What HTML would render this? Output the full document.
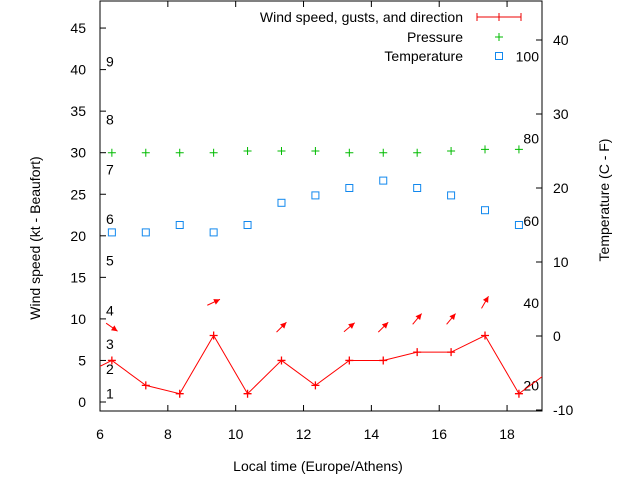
<!DOCTYPE html>
<html><head><meta charset="utf-8"><style>
body{margin:0;background:#fff}
svg{display:block;font-family:"Liberation Sans",sans-serif;font-size:14px}
</style></head><body>
<svg id="chart" width="640" height="480" xmlns="http://www.w3.org/2000/svg">
<rect width="640" height="480" fill="#fff"/>
<g id="grid"></g>
<g id="marks"></g>
<text x="318" y="471" text-anchor="middle">Local time (Europe/Athens)</text>
<text transform="translate(40,238) rotate(-90)" text-anchor="middle">Wind speed (kt - Beaufort)</text>
<text transform="translate(609,200) rotate(-90)" text-anchor="middle">Temperature (C - F)</text>
<g>
<text x="463" y="22" text-anchor="end">Wind speed, gusts, and direction</text>
<line x1="477" y1="17" x2="521" y2="17" stroke="#e00" stroke-width="1"/>
<line x1="477" y1="13" x2="477" y2="21" stroke="#e00"/><line x1="521" y1="13" x2="521" y2="21" stroke="#e00"/><line x1="499" y1="13" x2="499" y2="21" stroke="#e00"/>
<text x="463" y="42" text-anchor="end">Pressure</text>
<path d="M495 37h8M499 33v8" stroke="#0b0" fill="none"/>
<text x="463" y="61" text-anchor="end">Temperature</text>
<rect x="495.5" y="52.5" width="7" height="7" fill="none" stroke="#18e"/>
</g>
</svg>
<script>
const hours=[6.35,7.35,8.35,9.35,10.35,11.35,12.35,13.35,14.35,15.35,16.35,17.35,18.35];
const wind=[5,2,1,8,1,5,2,5,5,6,6,8,1];
const gusts=[9,null,null,12,null,9,null,9,9,10,10,12,null];
const dirAngle=[-35,0,0,25,0,45,0,40,45,50,50,60,0];
const pressure=[30,30,30,30,30.2,30.2,30.2,30,30,30,30.2,30.4,30.4];
const tempC=[14,14,15,14,15,18,19,20,21,20,19,17,15];
const xTicks=[6,8,10,12,14,16,18];
const yTicks=[0,5,10,15,20,25,30,35,40,45];
const y2Ticks=[-10,0,10,20,30,40];
const beaufort=[1,2,3,4,5,6,7,8,9];
const beaufortKt=[1,4,7,11,17,22,28,34,41];
const fahr=[20,40,60,80,100];
const L=100,R=542,T=1,B=411;
const X=h=>L+(h-6)*(R-L)/13.03;
const Y=v=>402-v*8.31;
const Y2=c=>336-c*7.4;
const NS="http://www.w3.org/2000/svg";
const g=document.getElementById('grid'),m=document.getElementById('marks');
function el(p,t,a){const e=document.createElementNS(NS,t);for(const k in a)e.setAttribute(k,a[k]);p.appendChild(e);return e;}
const frame=el(g,'rect',{x:L,y:T,width:R-L,height:B-T,fill:'none',stroke:'#000'});


xTicks.forEach(t=>{const x=X(t);
 el(g,'path',{d:`M${x} ${B}v-6M${x} ${T}v6`,stroke:'#000'});
 const tx=el(g,'text',{x:x,y:439,'text-anchor':'middle'});tx.textContent=t;
 
 });
yTicks.forEach(t=>{const y=Y(t);
 el(g,'path',{d:`M${L} ${y}h6`,stroke:'#000'});
 const tx=el(g,'text',{x:86,y:y+5,'text-anchor':'end'});tx.textContent=t;
 
 });
y2Ticks.forEach(t=>{const y=Y2(t);
 el(g,'path',{d:`M${R} ${y}h-6`,stroke:'#000'});
 const tx=el(g,'text',{x:553,y:y+5,'text-anchor':'start'});tx.textContent=t;
 
 });
beaufort.forEach((b,i)=>{const tx=el(g,'text',{x:106,y:Y(beaufortKt[i])+5});tx.textContent=b;
 
 });
fahr.forEach(f=>{const c=(f-32)*5/9;const tx=el(g,'text',{x:539,y:Y2(c)+5,'text-anchor':'end'});tx.textContent=f;
 
 });
// wind line
const pts=hours.map((h,i)=>X(h)+','+Y(wind[i]));
const cp=el(m,'clipPath',{id:'clip'});el(cp,'rect',{x:L,y:T,width:R-L,height:B-T});
const ln=el(m,'polyline',{points:[X(5.35)+','+Y(3),...pts,X(19.35)+','+Y(4)].join(' '),fill:'none',stroke:'#f00','clip-path':'url(#clip)'});


hours.forEach((h,i)=>{const x=X(h),y=Y(wind[i]);
 const p=el(m,'path',{d:`M${x-4} ${y}h8M${x} ${y-4}v8`,stroke:'#f00','stroke-width':1.3});
 
 
 const q=el(m,'path',{d:`M${x-4} ${Y(pressure[i])}h8M${x} ${Y(pressure[i])-4}v8`,stroke:'#0b0'});
 
 
 const s=el(m,'rect',{x:x-3.5,y:Y2(tempC[i])-3.5,width:7,height:7,fill:'none',stroke:'#18e'});
 
 
 if(gusts[i]!=null){const cy=Y(gusts[i]);const a=dirAngle[i]*Math.PI/180;
  const dx=7*Math.cos(a),dy=-7*Math.sin(a);
  const x2=x+dx,y2=cy+dy;
  const ux=Math.cos(a),uy=-Math.sin(a);
  const hx=x2-6*ux,hy=y2-6*uy;
  const ar=el(m,'g',{});
  
  
  el(ar,'line',{x1:x-dx,y1:cy-dy,x2:x2,y2:y2,stroke:'#f00'});
  el(ar,'polygon',{points:`${x2},${y2} ${hx-3*uy},${hy+3*ux} ${hx+3*uy},${hy-3*ux}`,fill:'#f00'});
 }
});
</script>
</body></html>
